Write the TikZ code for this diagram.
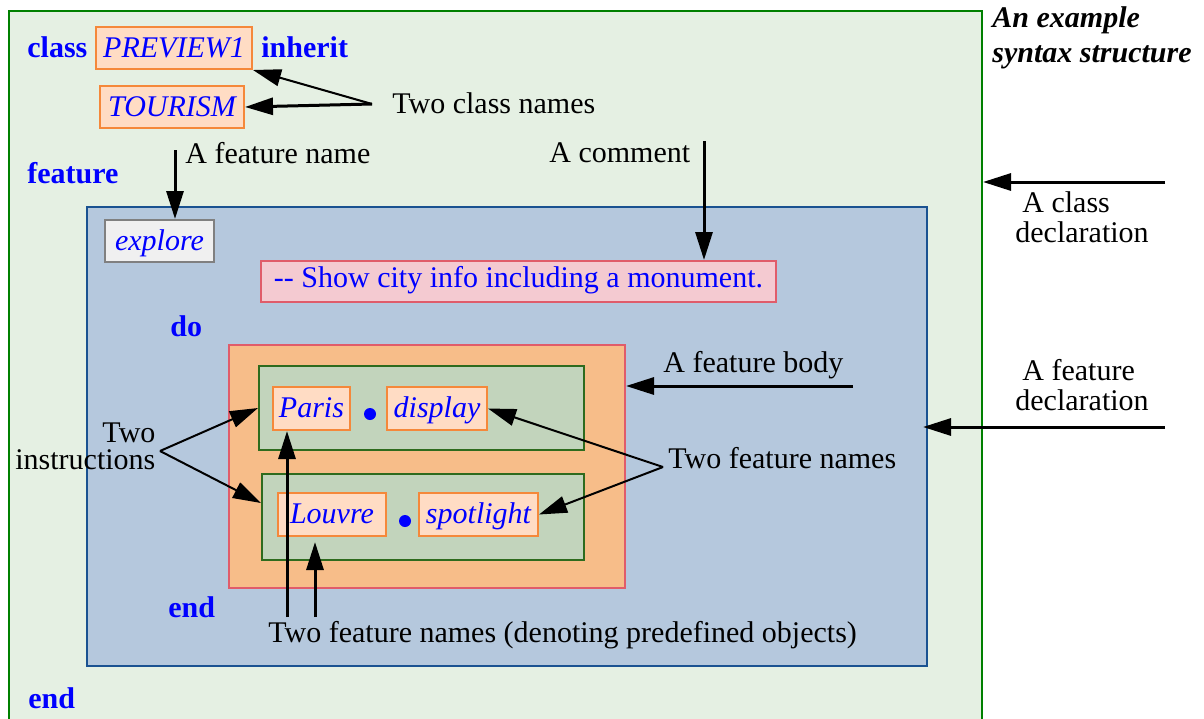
\documentclass[tikz,border=0pt]{standalone}
\usepackage{fontspec}
\setmainfont{Liberation Serif}
\usetikzlibrary{arrows.meta}

\definecolor{kwblue}{HTML}{0000FF}
\definecolor{clsfill}{HTML}{E5F0E3}
\definecolor{clsedge}{HTML}{008000}
\definecolor{featfill}{HTML}{B5C8DD}
\definecolor{featedge}{HTML}{1A5291}
\definecolor{bodyfill}{HTML}{F7BD89}
\definecolor{bodyedge}{HTML}{E05C6A}
\definecolor{instfill}{HTML}{C2D4BC}
\definecolor{instedge}{HTML}{2E6B1E}
\definecolor{namefill}{HTML}{FFDCC4}
\definecolor{nameedge}{HTML}{F5883A}
\definecolor{cmtfill}{HTML}{F4CAD1}
\definecolor{explfill}{HTML}{F0F0F0}

\begin{document}
\begin{tikzpicture}[x=0.5pt,y=-0.5pt,>={Triangle[length=14pt,width=8.5pt]},
    every node/.style={font=\fontsize{15}{18}\selectfont},
    kw/.style={anchor=base west,inner sep=0,text=kwblue,font=\fontsize{15}{18}\selectfont\bfseries},
    notetext/.style={anchor=base west,inner sep=0},
    region/.style={line width=1pt,inner sep=0},
    namebox/.style={draw=nameedge,fill=namefill,line width=1pt,inner sep=0,text=kwblue,
      text height=11.5pt,text depth=2.5pt,font=\fontsize{15}{18}\selectfont\itshape},
    dot/.style={circle,fill=kwblue,inner sep=0,minimum size=6pt},
    bigarrow/.style={->,line width=1.5pt},
    thinarrow/.style={->,line width=1pt}]

  \useasboundingbox (0,0) rectangle (1204,718);
  \clip (0,0) rectangle (1204,718);

  % nested regions
  \node[region,draw=clsedge,fill=clsfill,minimum width=486.5pt,minimum height=364.5pt] (cls) at (495.5,375.5) {};
  \node[region,draw=featedge,fill=featfill,minimum width=420pt,minimum height=229.5pt] (feat) at (507,436.5) {};
  \node[region,draw=bodyedge,fill=bodyfill,minimum width=198pt,minimum height=121.5pt] (body) at (427,466.5) {};
  \node[region,draw=instedge,fill=instfill,minimum width=162.5pt,minimum height=42pt] (instA) at (421.5,408) {};
  \node[region,draw=instedge,fill=instfill,minimum width=161pt,minimum height=43pt] (instB) at (423,517) {};

  % keywords
  \node[kw] (kclass) at (27,57) {class};
  \node[kw] (kinherit) at (261,57) {inherit};
  \node[kw] (kfeature) at (27,183) {feature};
  \node[kw] (kdo) at (170,336) {do};
  \node[kw] (kend) at (168,617) {end};
  \node[kw] (kendcls) at (28,708) {end};

  % names
  \node[namebox,minimum width=78pt,minimum height=21pt] (prev) at (174,48) {PREVIEW1};
  \node[namebox,minimum width=72pt,minimum height=21pt] (tour) at (172,107) {TOURISM};
  \node[namebox,draw=gray,fill=explfill,minimum width=54.5pt,minimum height=21pt] (expl) at (159.5,241) {explore};
  \node[namebox,draw=bodyedge,fill=cmtfill,font=\fontsize{15}{18}\selectfont,text height=9pt,text depth=3.5pt,
    minimum width=257.5pt,minimum height=20.5pt] (cmt) at (518.5,281.5) {-{}- Show city info including a monument.};
  \node[namebox,minimum width=38.5pt,minimum height=21.5pt] (paris) at (311.5,408.5) {Paris};
  \node[namebox,minimum width=50pt,minimum height=21.5pt] (disp) at (437,408.5) {display};
  \node[namebox,minimum width=54pt,minimum height=21.5pt] (louvre) at (332,514.5) {Louvre};
  \node[namebox,minimum width=59.5pt,minimum height=21.5pt] (spot) at (478.5,514.5) {spotlight};
  \node[dot] (dotA) at (370,414) {};
  \node[dot] (dotB) at (405,521) {};

  % notes
  \node[notetext,font=\fontsize{15}{17.5}\selectfont\bfseries\itshape,align=left] (title) at (992,62) {An example\\syntax structure};
  \node[notetext] (cnames) at (392,113) {Two class names};
  \node[notetext] (fname) at (185,163) {A feature name};
  \node[notetext] (cmnote) at (549,162) {A comment};
  \node[notetext] (fbody) at (663,372) {A feature body};
  \node[notetext,font=\fontsize{15}{13.5}\selectfont,align=right] (instr) at (15,469) {Two\\instructions};
  \node[notetext] (tfnames) at (668,468) {Two feature names};
  \node[notetext] (pdnames) at (268,642) {Two feature names (denoting predefined objects)};
  \node[notetext,font=\fontsize{15}{15}\selectfont,align=left] (cdecl) at (1015,242) {\hspace{3.5pt}A class\\declaration};
  \node[notetext,font=\fontsize{15}{15}\selectfont,align=left] (fdecl) at (1015,410) {\hspace{3.5pt}A feature\\declaration};

  % connectors
  \coordinate (cnj) at (372,104);
  \draw[thinarrow] (cnj) -- (prev.south east);
  \draw[bigarrow] (cnj) -- (tour.east);
  \coordinate (fnj) at (175,150);
  \draw[bigarrow] (fnj) -- (fnj |- expl.north);
  \coordinate (cmj) at (704,141);
  \draw[bigarrow] (cmj) -- (cmj |- cmt.north);
  \coordinate (fbj) at (853,386);
  \draw[bigarrow] (fbj) -- (fbj -| body.east);
  \coordinate (inj) at (160,451);
  \draw[thinarrow] (inj) -- (instA.west);
  \draw[thinarrow] (inj) -- ([yshift=7pt]instB.west);
  \coordinate (tfj) at (663,467);
  \draw[thinarrow] (tfj) -- (disp.east);
  \draw[thinarrow] (tfj) -- (spot.east);
  \coordinate (pdA) at (287,617);
  \coordinate (pdB) at (315,617);
  \draw[bigarrow] (pdA) -- (pdA |- paris.south);
  \draw[bigarrow,shorten >=2.5pt] (pdB) -- (pdB |- louvre.south);
  \coordinate (cdj) at (1165,182);
  \draw[bigarrow] (cdj) -- (cdj -| cls.east);
  \coordinate (fdj) at (1165,427);
  \draw[bigarrow,shorten >=-2.5pt] (fdj) -- (fdj -| feat.east);
\end{tikzpicture}
\end{document}
